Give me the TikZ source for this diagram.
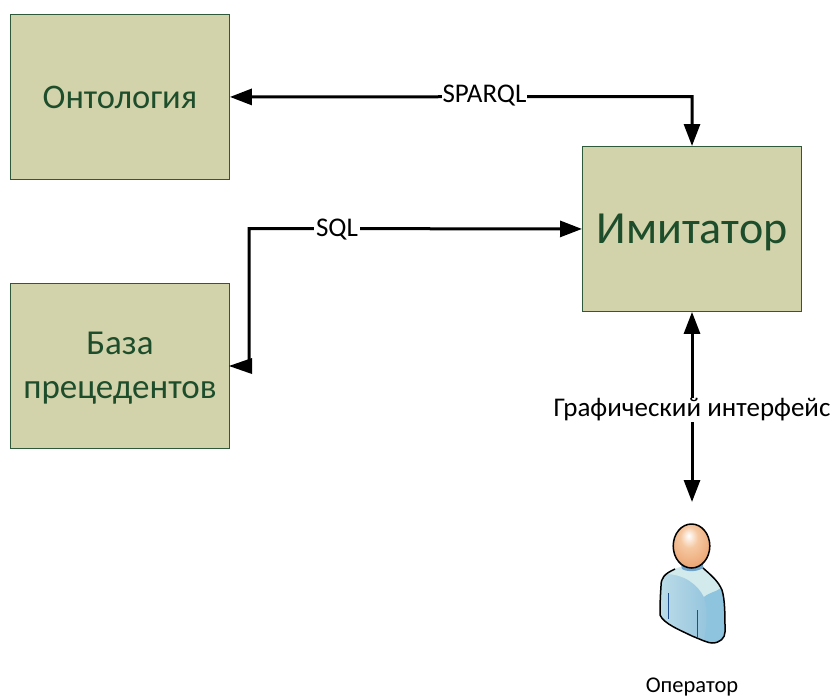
\documentclass[tikz,border=0pt]{standalone}
\usepackage{fontspec}
\setmainfont{Carlito}
\usetikzlibrary{arrows.meta,calc}
\definecolor{boxfill}{HTML}{D3D3AB}
\definecolor{boxline}{HTML}{2F5A3A}
\definecolor{boxtext}{HTML}{1D4D2B}
\definecolor{bodyL}{HTML}{BCDCE8}
\definecolor{bodyR}{HTML}{86BCD9}
\definecolor{shoulder}{HTML}{D2EAEC}
\definecolor{armcol}{HTML}{8FC4DE}
\definecolor{neckcol}{HTML}{6FA3C8}
\definecolor{seamcol}{HTML}{1F4E8C}
\definecolor{headA}{HTML}{F5C8A2}
\definecolor{headB}{HTML}{EDA876}
\definecolor{headC}{HTML}{D98E50}
\definecolor{headD}{HTML}{C98040}
\pgfdeclareradialshading{headshade}{\pgfpoint{-4bp}{12bp}}{color(0bp)=(white);color(12bp)=(headA);color(30bp)=(headB);color(50bp)=(headC);color(70bp)=(headD)}
\tikzset{
  block/.style={draw=boxline,fill=boxfill,line width=0.9pt,minimum width=219pt,minimum height=165pt,inner sep=0pt,anchor=north west},
  blocktext/.style={inner sep=0pt,text=boxtext,align=center},
  link/.style={line width=3pt,line join=miter,{Triangle[length=22pt,width=16pt]}-{Triangle[length=22pt,width=16pt]}},
  lbl/.style={fill=white,inner sep=0.5pt,text=black,font=\fontsize{27}{30}\selectfont}
}
\begin{document}
\begin{tikzpicture}[x=1pt,y=-1pt]
\useasboundingbox (0,0) rectangle (834,699);
\node[block] (onto) at (10,14) {};
\node[block] (base) at (10,283) {};
\node[block] (sim) at (582,146) {};
\node[blocktext,font=\fontsize{34.5}{40}\selectfont] (ontotext) at (onto.center) {Онтология};
\node[blocktext,font=\fontsize{35}{44}\selectfont,yshift=-2.5pt] (basetext) at (base.center) {База\\прецедентов};
\node[blocktext,font=\fontsize{46}{52}\selectfont,yshift=-3pt] (simtext) at (sim.center) {Имитатор};
\coordinate (person) at (692,502);
\coordinate (baseport) at (229,366);
% connectors
\coordinate (c1) at (692,96.5);
\draw[link] (onto.east) -- (c1) -- (sim.north -| c1);
\node[lbl] (sparql) at (484.5,96) {SPARQL};
\coordinate (c2) at (249,228.5);
\draw[line width=3pt,-{Triangle[length=22pt,width=16pt]}] (c2 |- baseport) -- (c2) -- (sim.west);
\fill (baseport) -- (252,358) -- (252,374) -- cycle;
\node[lbl,inner sep=2pt] (sql) at (337,230) {SQL};
\draw[link] (sim.south -| person) -- (person);
\node[lbl] (gui) at (692,410) {Графический интерфейс};
% person
\path[left color=bodyL,right color=bodyR]
  (675,569) .. controls (664,574) and (661,578) .. (661,586)
  .. controls (660,600) and (660,610) .. (660,615)
  .. controls (664,624) and (680,630) .. (692,636)
  .. controls (702,640) and (708,643) .. (712,643)
  .. controls (720,643) and (725,638) .. (725,632)
  .. controls (725,615) and (725,600) .. (722,590)
  .. controls (718,581) and (712,576) .. (703,568) -- cycle;
\fill[fill=shoulder] (665,574) .. controls (671,570) and (675,569) .. (680,567)
  -- (703,568) .. controls (712,576) and (718,581) .. (721,588)
  .. controls (716,592) and (708,594) .. (704,597)
  .. controls (698,585) and (685,574) .. (665,574) -- cycle;
\fill[fill=armcol] (704,597) .. controls (710,592) and (716,592) .. (721,588) .. controls (725,600) and (725,615) .. (725,632) .. controls (725,638) and (720,643) .. (712,643) .. controls (708,643) and (706,642) .. (704,641) .. controls (707,625) and (708,610) .. (704,597) -- cycle;
\fill[fill=neckcol] (680,560) -- (682,569) .. controls (687,572) and (697,572) .. (703,568) -- (703,560) -- cycle;
\draw[line width=1.5pt,line join=round]
  (675,569) .. controls (664,574) and (661,578) .. (661,586)
  .. controls (660,600) and (660,610) .. (660,615)
  .. controls (664,624) and (680,630) .. (692,636)
  .. controls (702,640) and (708,643) .. (712,643)
  .. controls (720,643) and (725,638) .. (725,632)
  .. controls (725,615) and (725,600) .. (722,590)
  .. controls (718,581) and (712,576) .. (703,568);
\draw[seamcol,line width=0.8pt] (668,593) -- (668,619);
\draw[seamcol,line width=0.8pt] (697,610) -- (697,637);
\path[shading=headshade,draw=black,line width=1.5pt] (691.5,546) ellipse [x radius=18.3,y radius=22];
\node[text=black,inner sep=0pt,font=\fontsize{22.5}{26}\selectfont] (oplabel) at (692,687) {Оператор};
\end{tikzpicture}
\end{document}
